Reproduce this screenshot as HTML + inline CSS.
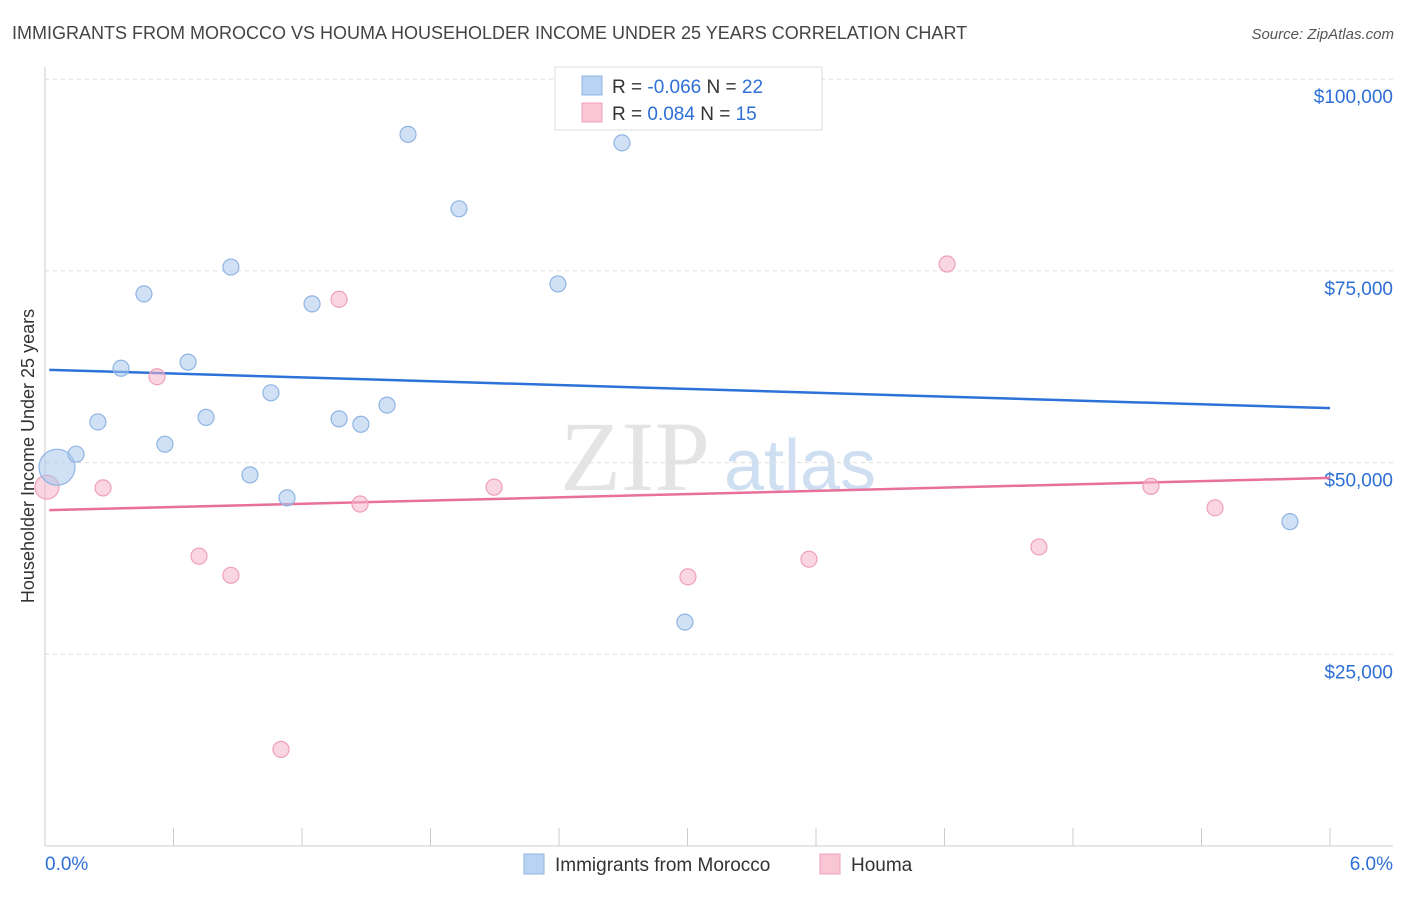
<!DOCTYPE html>
<html><head><meta charset="utf-8"><style>
body{margin:0;background:#fff;font-family:"Liberation Sans",sans-serif;}
</style></head><body>
<svg width="1406" height="892" xmlns="http://www.w3.org/2000/svg" id="chart">
<text x="12" y="39" font-size="18" fill="#444">IMMIGRANTS FROM MOROCCO VS HOUMA HOUSEHOLDER INCOME UNDER 25 YEARS CORRELATION CHART</text>
<text x="1394" y="39" font-size="15" fill="#555" text-anchor="end" font-style="italic">Source: ZipAtlas.com</text>
<text transform="translate(34,456) rotate(-90)" font-size="18" fill="#333" text-anchor="middle">Householder Income Under 25 years</text>
<g>
<text x="635" y="490" font-size="100" fill="#e4e4e4" font-family="Liberation Serif,serif" text-anchor="middle">ZIP</text>
<text x="800" y="490" font-size="72" fill="#cfdff2" text-anchor="middle">atlas</text>
</g>
<g id="grid"></g><g id="axes"></g><g id="lines"></g><g id="pts"></g>
<g>
<rect x="555" y="67" width="267" height="63" fill="#fff" stroke="#ddd"/>
<rect x="582" y="76" width="20" height="19" fill="#b8d3f3" stroke="#8fb4e3"/>
<text x="612" y="93" font-size="19" fill="#333">R = <tspan fill="#2d6fd6">-0.066</tspan>   N = <tspan fill="#2d6fd6">22</tspan></text>
<rect x="582" y="103" width="20" height="19" fill="#f9c6d5" stroke="#eea0b8"/>
<text x="612" y="120" font-size="19" fill="#333">R =  <tspan fill="#2d6fd6">0.084</tspan>   N =  <tspan fill="#2d6fd6">15</tspan></text>
</g>
<g>
<rect x="524" y="854" width="20" height="20" fill="#b8d3f3" stroke="#8fb4e3"/>
<text x="555" y="871" font-size="19" fill="#333">Immigrants from Morocco</text>
<rect x="820" y="854" width="20" height="20" fill="#f9c6d5" stroke="#eea0b8"/>
<text x="851" y="871" font-size="19" fill="#333">Houma</text>
</g>
</svg>
<script>
const yTicks=[25000,50000,75000,100000];
const yTickLabels=["$25,000","$50,000","$75,000","$100,000"];
const xTickLabels=["0.0%","6.0%"];
const blueX=[0.056,0.145,0.247,0.355,0.462,0.560,0.668,0.752,0.868,0.957,1.055,1.130,1.247,1.373,1.475,1.597,1.695,1.933,2.395,2.694,2.988,5.813];
const blueY=[49400,51100,55300,62300,72000,52400,63100,55900,75500,48400,59100,45400,70700,55700,55000,57500,92800,83100,73300,91700,29200,42300];
const pinkX=[0.009,0.271,0.523,0.719,0.868,1.102,1.373,1.471,2.097,3.002,3.567,4.212,4.641,5.164,5.463];
const pinkY=[46800,46700,61200,37800,35300,12600,71300,44600,46800,35100,37400,75900,39000,46900,44100];
const blueTrend=[62100,57100];
const pinkTrend=[43800,48000];
const NS="http://www.w3.org/2000/svg";
const xs=v=>45+v/6*1285, ys=v=>846-v/25000*191.7;
function mk(t,a,p){const e=document.createElementNS(NS,t);for(const k in a)e.setAttribute(k,a[k]);document.getElementById(p).appendChild(e);return e;}
yTicks.forEach((t,i)=>{
 const l=mk('line',{x1:45,x2:1393,y1:ys(t),y2:ys(t),stroke:'#ddd','stroke-dasharray':'4,4'},'grid');
 
 
 const tx=mk('text',{x:1393,y:ys(t)+24,'font-size':19,fill:'#2d6fd6','text-anchor':'end'},'grid');
 tx.textContent=yTickLabels[i];
 
 
});
let a=mk('line',{x1:45,x2:45,y1:67,y2:846,stroke:'#ccc'},'axes');


a=mk('line',{x1:45,x2:1393,y1:846,y2:846,stroke:'#ccc'},'axes');


for(let i=0;i<=10;i++){const t=mk('line',{x1:xs(i*0.6),x2:xs(i*0.6),y1:828,y2:846,stroke:'#ccc'},'axes');
 
 }
[[0,'start',45],[6,'end',1393]].forEach((d,i)=>{const t=mk('text',{x:d[2],y:870,'font-size':19,fill:'#2d6fd6','text-anchor':d[1]},'axes');t.textContent=xTickLabels[i];
 
 });
let tl=mk('line',{x1:xs(0.02),x2:xs(6),y1:ys(blueTrend[0]),y2:ys(blueTrend[1]),stroke:'#2d72d9','stroke-width':2.5},'lines');


tl=mk('line',{x1:xs(0.02),x2:xs(6),y1:ys(pinkTrend[0]),y2:ys(pinkTrend[1]),stroke:'#e8709a','stroke-width':2.5},'lines');


pinkX.forEach((x,i)=>{const c=mk('circle',{cx:xs(x),cy:ys(pinkY[i]),r:i==0?12:8,fill:'rgba(246,180,202,0.55)',stroke:'#eea0b8','stroke-width':1.2},'pts');
 
 });
blueX.forEach((x,i)=>{const c=mk('circle',{cx:xs(x),cy:ys(blueY[i]),r:i==0?18:8,fill:'rgba(169,200,238,0.55)',stroke:'#8fb4e3','stroke-width':1.2},'pts');
 
 });
</script>
</body></html>
